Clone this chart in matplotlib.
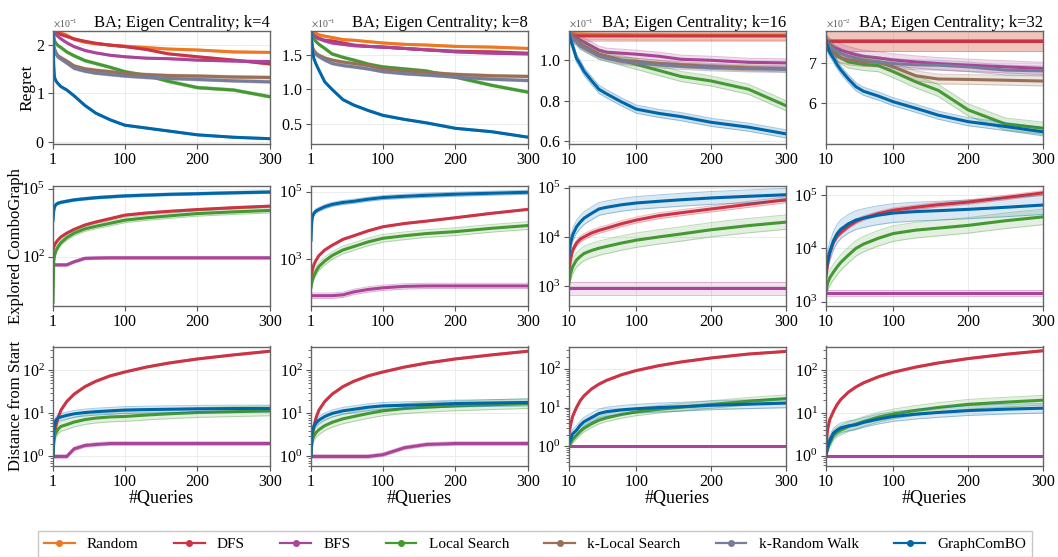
import matplotlib.pyplot as plt
import numpy as np
from matplotlib.lines import Line2D
from matplotlib.ticker import ScalarFormatter, FixedLocator, NullLocator

plt.rcParams['font.family'] = 'serif'
plt.rcParams['font.serif'] = ['Liberation Serif', 'DejaVu Serif']
plt.rcParams['mathtext.fontset'] = 'stix'

methods = ['Random', 'DFS', 'BFS', 'Local Search', 'k-Local Search', 'k-Random Walk', 'GraphComBO']
colors = ['#EE7722', '#CC3344', '#AA4499', '#449933', '#997055', '#777C99', '#0066AA']
ks = [4, 8, 16, 32]

# query grids (k=4, 8 start at 1; k=16, 32 start at 10)
queries_a = [1, 2, 3, 5, 8, 12, 20, 30, 45, 60, 80, 100, 130, 160, 200, 250, 300]
queries_b = [10, 12, 15, 20, 25, 30, 40, 50, 60, 80, 100, 130, 160, 200, 250, 300]

# ---- Regret (mean) ----
regret_k4 = {
    'Random': [.230, .230, .229, .228, .227, .225, .221, .212, .206, .203, .200, .198, .195, .192, .190, .186, .185],
    'DFS': [.230, .229, .228, .227, .225, .222, .218, .213, .208, .204, .200, .197, .191, .182, .176, .169, .161],
    'BFS': [.230, .228, .226, .222, .218, .213, .205, .197, .189, .184, .179, .176, .173, .172, .169, .167, .166],
    'Local Search': [.230, .220, .210, .204, .199, .195, .186, .178, .168, .162, .154, .145, .137, .125, .112, .107, .093],
    'k-Local Search': [.230, .200, .193, .185, .178, .174, .167, .157, .151, .148, .145, .141, .139, .137, .136, .134, .133],
    'k-Random Walk': [.230, .198, .190, .182, .175, .171, .163, .152, .146, .142, .139, .136, .133, .131, .129, .126, .124],
    'GraphComBO': [.230, .160, .134, .126, .120, .114, .107, .095, .075, .059, .045, .034, .028, .022, .014, .009, .006],
}
regret_k8 = {
    'Random': [.185, .184, .184, .183, .182, .180, .178, .176, .173, .172, .170, .168, .166, .165, .163, .162, .160],
    'DFS': [.185, .183, .181, .179, .177, .175, .172, .171, .168, .165, .163, .162, .160, .158, .156, .155, .153],
    'BFS': [.185, .183, .180, .178, .176, .174, .171, .168, .166, .164, .163, .162, .160, .158, .155, .153, .152],
    'Local Search': [.185, .182, .178, .174, .170, .166, .160, .152, .147, .143, .137, .133, .130, .127, .118, .106, .096],
    'k-Local Search': [.185, .170, .162, .157, .153, .150, .146, .143, .140, .138, .135, .130, .127, .125, .122, .120, .119],
    'k-Random Walk': [.185, .168, .160, .155, .151, .148, .143, .138, .135, .133, .130, .126, .123, .121, .118, .115, .113],
    'GraphComBO': [.185, .167, .155, .145, .137, .128, .111, .100, .085, .077, .069, .062, .056, .051, .043, .038, .030],
}
regret_k16 = {
    'Random': [.1135, .1133, .1132, .1130, .1130, .1129, .1128, .1128, .1127, .1127, .1126, .1126, .1125, .1125, .1125, .1125],
    'DFS': [.1121, .1121, .1121, .1120, .1120, .1120, .1120, .1120, .1120, .1120, .1120, .1120, .1120, .1120, .1120, .1120],
    'BFS': [.114, .113, .112, .111, .110, .109, .107, .105, .104, .1035, .103, .102, .1005, .100, .099, .0987],
    'Local Search': [.114, .112, .111, .110, .108, .107, .105, .103, .102, .100, .098, .095, .092, .0898, .0857, .0776],
    'k-Local Search': [.114, .112, .111, .110, .108, .107, .105, .103, .102, .100, .0995, .0985, .0978, .097, .0963, .0958],
    'k-Random Walk': [.114, .112, .110, .109, .107, .106, .104, .102, .101, .0995, .0987, .0978, .0970, .0963, .0958, .0955],
    'GraphComBO': [.1133, .110, .107, .101, .098, .0946, .090, .0857, .0835, .0795, .0759, .0738, .0722, .0694, .0670, .0637],
}
regret_k32 = {
    'Random': [.0755, .0755, .0755, .0755, .0755, .0755, .0755, .0755, .0755, .0755, .0755, .0755, .0755, .0755, .0755, .0755],
    'DFS': [.0753, .0753, .0753, .0753, .0753, .0753, .0753, .0753, .0753, .0753, .0753, .0753, .0753, .0753, .0753, .0753],
    'BFS': [.0756, .0750, .0745, .0738, .0735, .0731, .0725, .0720, .0716, .0712, .0707, .0702, .0698, .0694, .0690, .0686],
    'Local Search': [.0756, .0750, .0742, .0731, .0720, .0712, .0702, .0699, .0696, .0693, .0678, .0653, .0632, .0584, .0549, .0539],
    'k-Local Search': [.0756, .0745, .0735, .0725, .0715, .0712, .0707, .0705, .0703, .0702, .0690, .0668, .0660, .0659, .0657, .0655],
    'k-Random Walk': [.0756, .0748, .0740, .0733, .0728, .0723, .0716, .0712, .0707, .0702, .0698, .0695, .0694, .0690, .0682, .0680],
    'GraphComBO': [.0756, .0740, .0725, .0711, .0695, .0682, .0660, .0641, .0630, .0618, .0604, .0588, .0571, .0555, .0543, .0530],
}
# regret std (methods order)
regret_std_k4 = [.002, .002, .002, .003, .003, .003, .002]
regret_std_k8 = [.0015, .0015, .0015, .002, .002, .002, .0015]
regret_std_k16 = [.0025, .0025, .002, .0025, .0015, .0015, .002]
regret_std_k32 = [.0025, .0025, .0015, .0015, .0012, .0012, .001]

# ---- Explored ComboGraph (mean) ----
explored_k4 = {
    'DFS': [200, 260, 320, 420, 560, 750, 1100, 1600, 2500, 3400, 4800, 6800, 8500, 10000, 12000, 14500, 17000],
    'BFS': [44, 44, 44, 44, 44, 44, 44, 60, 85, 88, 90, 90, 90, 90, 90, 90, 90],
    'Local Search': [1, 60, 110, 180, 280, 420, 700, 1100, 1700, 2200, 3000, 4100, 5200, 6300, 8000, 9500, 11000],
    'GraphComBO': [4000, 10000, 15000, 20000, 23000, 25000, 28000, 32000, 36000, 40000, 44000, 48000, 52000, 56000, 60000, 66000, 71000],
}
explored_k8 = {
    'DFS': [300, 400, 500, 700, 950, 1300, 1900, 2600, 3900, 5000, 7000, 9200, 11500, 13500, 17000, 23000, 30000],
    'BFS': [85, 85, 85, 85, 85, 85, 85, 85, 90, 110, 130, 145, 160, 165, 165, 165, 165],
    'Local Search': [150, 200, 250, 330, 450, 620, 900, 1300, 1900, 2400, 3300, 4200, 5000, 5800, 6600, 8300, 10000],
    'GraphComBO': [3700, 12000, 18000, 23000, 27000, 30000, 36000, 42000, 48000, 52000, 60000, 67000, 73000, 78000, 84000, 90000, 96000],
}
explored_k16 = {
    'DFS': [2100, 3500, 5400, 7500, 9000, 10000, 12000, 13600, 15000, 18500, 22000, 27000, 31000, 37000, 46000, 57000],
    'BFS': [900, 900, 900, 900, 900, 900, 900, 900, 900, 900, 900, 900, 900, 900, 900, 900],
    'Local Search': [1200, 1800, 2500, 3400, 4000, 4600, 5300, 5900, 6400, 7500, 8600, 10000, 11500, 14000, 17000, 20000],
    'GraphComBO': [4300, 7500, 11000, 16000, 20000, 24000, 30000, 37000, 40000, 45000, 49000, 53000, 57000, 62000, 67000, 72000],
}
explored_k32 = {
    'DFS': [2900, 5000, 8000, 13000, 17000, 20000, 26000, 32000, 37000, 45000, 52000, 59000, 66000, 74000, 90000, 110000],
    'BFS': [1450, 1450, 1450, 1450, 1450, 1450, 1450, 1450, 1450, 1450, 1450, 1450, 1450, 1450, 1450, 1450],
    'Local Search': [1500, 2200, 2800, 3600, 4500, 5500, 7500, 10000, 12000, 15500, 19000, 22000, 24000, 27000, 33000, 39000],
    'GraphComBO': [4000, 6000, 8700, 14000, 19000, 23000, 29000, 34000, 37000, 42000, 46000, 49000, 51000, 54000, 59000, 65000],
}
# multiplicative spread (DFS, BFS, Local Search, GraphComBO)
explored_spread_k4 = [1.1, 1.15, 1.3, 1.15]
explored_spread_k8 = [1.05, 1.2, 1.3, 1.15]
explored_spread_k16 = [1.15, 1.35, 1.4, 1.35]
explored_spread_k32 = [1.1, 1.15, 1.4, 1.5]

# ---- Distance from Start (mean) ----
distance_k4 = {
    'DFS': [1, 2, 3, 5, 8, 12, 19, 28, 42, 56, 75, 92, 120, 148, 185, 230, 280],
    'BFS': [1, 1, 1, 1, 1, 1, 1, 1.5, 1.8, 1.9, 2, 2, 2, 2, 2, 2, 2],
    'Local Search': [1, 2.5, 3, 3.5, 4.3, 5, 5.5, 6.3, 7.2, 7.8, 8.3, 8.5, 9.2, 9.8, 10.5, 11, 11.5],
    'GraphComBO': [1, 4, 5.5, 7, 7.8, 8.3, 9, 9.8, 10.5, 11, 11.5, 12, 12.3, 12.5, 12.8, 13, 13],
}
distance_k8 = {
    'DFS': [1, 2, 3, 5, 8, 12, 19, 28, 42, 56, 75, 92, 120, 148, 185, 230, 280],
    'BFS': [1, 1, 1, 1, 1, 1, 1, 1, 1, 1, 1, 1.1, 1.6, 1.9, 2, 2, 2],
    'Local Search': [1, 2, 2.5, 3, 3.6, 4.2, 5.2, 6.2, 7.5, 8.5, 10, 11.5, 13, 14, 15, 16, 17],
    'GraphComBO': [1, 3, 4, 5, 6, 7, 8.5, 10, 11.5, 12.5, 14, 15, 15.5, 16, 17, 17.5, 18],
}
distance_k16 = {
    'DFS': [2, 3.5, 6, 10, 15, 20, 30, 40, 50, 70, 90, 120, 150, 190, 240, 280],
    'BFS': [1, 1, 1, 1, 1, 1, 1, 1, 1, 1, 1, 1, 1, 1, 1, 1],
    'Local Search': [1, 1.2, 1.5, 1.9, 2.4, 2.9, 3.8, 4.7, 5.4, 6.6, 7.7, 9, 10.2, 12, 14.5, 17],
    'GraphComBO': [1.2, 1.6, 2.1, 2.6, 3.5, 4.3, 5.5, 7, 7.8, 8.7, 9.3, 10, 10.5, 11.4, 12.2, 13],
}
distance_k32 = {
    'DFS': [1.5, 4, 7, 11, 16, 21, 31, 41, 51, 71, 91, 120, 150, 190, 240, 290],
    'BFS': [1, 1, 1, 1, 1, 1, 1, 1, 1, 1, 1, 1, 1, 1, 1, 1],
    'Local Search': [1, 1.5, 2, 3, 3.6, 4, 4.8, 5.5, 6.3, 8, 9.5, 11.5, 13.5, 16, 18, 20],
    'GraphComBO': [1, 1.6, 2.3, 3.4, 4, 4.5, 5, 5.3, 6, 7.2, 8.3, 9.4, 10.3, 11.4, 12.3, 13],
}
distance_spread_k4 = [1.05, 1.1, 1.3, 1.2]
distance_spread_k8 = [1.05, 1.1, 1.3, 1.2]
distance_spread_k16 = [1.05, 1.0, 1.25, 1.3]
distance_spread_k32 = [1.05, 1.0, 1.3, 1.3]

regret_all = [regret_k4, regret_k8, regret_k16, regret_k32]
regret_std_all = [regret_std_k4, regret_std_k8, regret_std_k16, regret_std_k32]
explored_all = [explored_k4, explored_k8, explored_k16, explored_k32]
explored_spread_all = [explored_spread_k4, explored_spread_k8, explored_spread_k16, explored_spread_k32]
distance_all = [distance_k4, distance_k8, distance_k16, distance_k32]
distance_spread_all = [distance_spread_k4, distance_spread_k8, distance_spread_k16, distance_spread_k32]

regret_ylims = [(-0.005, 0.23), (0.02, 0.186), (0.0587, 0.1146), (0.05, 0.0779)]
regret_ticks = [[0, 0.1, 0.2], [0.05, 0.10, 0.15], [0.06, 0.08, 0.10], [0.06, 0.07]]
explored_ylims = [(0.7, 1.35e5), (43, 1.5e5), (400, 1.1e5), (840, 1.5e5)]
explored_ticks = [[1e2, 1e5], [1e3, 1e5], [1e3, 1e4, 1e5], [1e3, 1e4, 1e5]]
distance_ylims = [(0.6, 360), (0.6, 360), (0.31, 375), (0.57, 365)]

color_of = dict(zip(methods, colors))

fig = plt.figure(figsize=(10.58, 5.57), dpi=100)
W, H = 1058.0, 557.0
col_left = [53, 311, 569, 826]
col_w = 217
rows = [(30.7, 144), (185.7, 305.7), (346.5, 466)]


def style_axis(ax, xs):
    for s in ax.spines.values():
        s.set_color('#666666')
        s.set_linewidth(1.0)
    ax.tick_params(colors='#555555', labelcolor='black', labelsize=11.5, length=3.5, width=0.8, pad=2.5)
    ax.tick_params(which='minor', colors='#555555', length=2, width=0.6)
    ax.grid(True, color='#ececec', linewidth=0.7)
    ax.set_axisbelow(True)
    ax.set_xlim(xs[0], 300)
    ax.set_xticks([xs[0], 100, 200, 300])


axes = []
for r, (top, bot) in enumerate(rows):
    row_axes = []
    for c in range(4):
        ax = fig.add_axes([col_left[c] / W, 1 - bot / H, col_w / W, (bot - top) / H])
        row_axes.append(ax)
    axes.append(row_axes)

for c, k in enumerate(ks):
    xs = queries_a if k in (4, 8) else queries_b

    # Regret
    ax = axes[0][c]
    for m, sd in zip(methods, regret_std_all[c]):
        v = np.array(regret_all[c][m])
        col = color_of[m]
        ax.fill_between(xs, v - sd, v + sd, color=col, alpha=0.18, linewidth=0)
        ax.plot(xs, v - sd, color=col, alpha=0.35, lw=0.7)
        ax.plot(xs, v + sd, color=col, alpha=0.35, lw=0.7)
        ax.plot(xs, v, color=col, lw=2.2)
    style_axis(ax, xs)
    ax.set_ylim(*regret_ylims[c])
    ax.yaxis.set_major_locator(FixedLocator(regret_ticks[c]))
    fmt = ScalarFormatter(useMathText=True, useOffset=False)
    fmt.set_powerlimits((0, 0))
    ax.yaxis.set_major_formatter(fmt)
    ax.yaxis.get_offset_text().set_fontsize(7)
    ax.set_title(f'BA; Eigen Centrality; k={k}', loc='right', fontsize=12, y=1.0, pad=3)

    # Explored ComboGraph and Distance from Start
    for r, data, spread, ylim in [(1, explored_all[c], explored_spread_all[c], explored_ylims[c]),
                                  (2, distance_all[c], distance_spread_all[c], distance_ylims[c])]:
        ax = axes[r][c]
        ax.set_yscale('log')
        for m, f in zip(['DFS', 'BFS', 'Local Search', 'GraphComBO'], spread):
            v = np.array(data[m], dtype=float)
            col = color_of[m]
            if f > 1.0:
                ax.fill_between(xs, v / f, v * f, color=col, alpha=0.15, linewidth=0)
                ax.plot(xs, v / f, color=col, alpha=0.35, lw=0.7)
                ax.plot(xs, v * f, color=col, alpha=0.35, lw=0.7)
            ax.plot(xs, v, color=col, lw=2.2)
        style_axis(ax, xs)
        ax.set_ylim(*ylim)
        if r == 1:
            ax.yaxis.set_major_locator(FixedLocator(explored_ticks[c]))
            ax.yaxis.set_minor_locator(NullLocator())
        else:
            ax.set_xlabel('#Queries', fontsize=13, labelpad=0)

axes[0][0].set_ylabel('Regret', fontsize=12.5, labelpad=0)
axes[1][0].set_ylabel('Explored ComboGraph', fontsize=12, labelpad=-1.5)
axes[2][0].set_ylabel('Distance from Start', fontsize=12, labelpad=-1.5)

handles = [Line2D([0], [0], color=col, lw=1.6, marker='o', markersize=4) for col in colors]
fig.legend(handles, methods, loc='lower left', bbox_to_anchor=(38 / W, 0.0, 994 / W, 0.06),
           mode='expand', ncol=7, fontsize=11, frameon=True, fancybox=False,
           edgecolor='#bbbbbb', handlelength=2.0, borderaxespad=0.0)

fig.savefig('out.png', dpi=100)
